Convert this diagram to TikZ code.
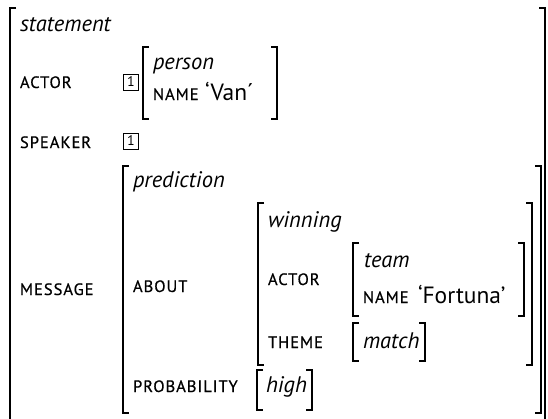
\documentclass[tikz,border=0pt]{standalone}
\usepackage{fontspec}
\setmainfont{PT Sans}
\newfontfamily\featfont[LetterSpace=6,FakeBold=0.6]{PT Sans}
\newcommand{\feat}[1]{{\featfont\fontsize{16.5}{17}\selectfont\MakeUppercase{#1}}}
\newcommand{\typ}[1]{{\fontsize{22.5}{24}\selectfont\itshape #1}}
\newcommand{\val}[1]{{\fontsize{23.5}{25}\selectfont #1}}
\begin{document}
\begin{tikzpicture}[x=1pt,y=-1pt,
  lbl/.style={anchor=base west,inner sep=0pt,outer sep=0pt},
  tag/.style={draw,line width=0.8pt,minimum width=15pt,minimum height=16pt,
    inner sep=0pt,font=\fontsize{14}{14}\selectfont},
  brk/.style={line width=1.6pt,line cap=butt,line join=miter}]
\useasboundingbox (0,0) rectangle (548,418);
% left and right square brackets of an attribute-value matrix
\newcommand{\lbrk}[3]{\draw[brk] (#1+6,#2) -- (#1,#2) -- (#1,#3) -- (#1+6,#3);}
\newcommand{\rbrk}[3]{\draw[brk] (#1-6,#2) -- (#1,#2) -- (#1,#3) -- (#1-6,#3);}

% outermost matrix: statement
\lbrk{10}{8}{430}
\rbrk{545}{8}{430}
\node[lbl] (stmt) at (20,31) {\typ{statement}};

\node[lbl] (actor) at (20,88) {\feat{actor}};
\node[tag] (tag1) at (131,82) {1};
\lbrk{143}{47}{119}
\rbrk{277}{47}{119}
\node[lbl] (person) at (153,69) {\typ{person}};
\node[lbl] (name1) at (153,100) {\feat{name}};
\node[lbl] (van) at (205,100) {\val{‘Van´}};

\node[lbl] (speaker) at (20,148) {\feat{speaker}};
\node[tag] (tag2) at (131,141) {1};

% message: prediction
\node[lbl] (message) at (20,295) {\feat{message}};
\lbrk{123}{166}{413}
\rbrk{541}{166}{413}
\node[lbl] (pred) at (133,187) {\typ{prediction}};

\node[lbl] (about) at (133,292) {\feat{about}};
\lbrk{258}{203}{365}
\rbrk{532}{203}{365}
\node[lbl] (win) at (268,227) {\typ{winning}};

\node[lbl] (actor2) at (268,285) {\feat{actor}};
\lbrk{353}{243}{316}
\rbrk{524}{243}{316}
\node[lbl] (team) at (364,267) {\typ{team}};
\node[lbl] (name2) at (363,303) {\feat{name}};
\node[lbl] (fortuna) at (418,303) {\val{‘Fortuna’}};

\node[lbl] (theme) at (268,348) {\feat{theme}};
\lbrk{353}{323}{361}
\rbrk{425}{323}{361}
\node[lbl] (match) at (363,348) {\typ{match}};

\node[lbl] (prob) at (133,392) {\feat{probability}};
\lbrk{257}{370}{410}
\rbrk{312}{370}{410}
\node[lbl] (high) at (266,392) {\typ{high}};
\end{tikzpicture}
\end{document}
